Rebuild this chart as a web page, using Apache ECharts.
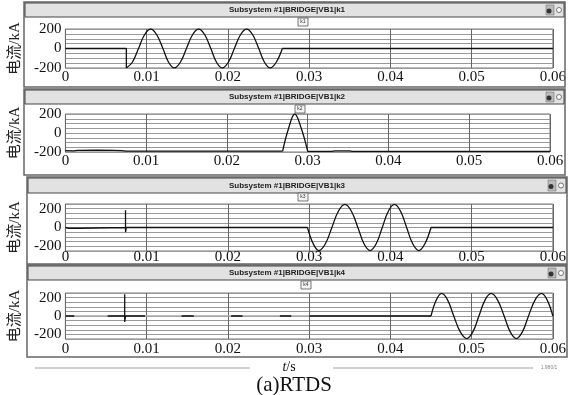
<!DOCTYPE html>
<html>
<head>
<meta charset="utf-8">
<script src="https://cdn.jsdelivr.net/npm/echarts@6/dist/echarts.min.js"></script>
<style>
  html, body { margin: 0; padding: 0; background: #fff; }
  #main { width: 569px; height: 395px; }
</style>
</head>
<body>
<div id="main"></div>
<script>
// x ticks (s)
const xTicks = [0, 0.01, 0.02, 0.03, 0.04, 0.05, 0.06];
const yLabels = [200, 0, -200];
const panelTitles = ['Subsystem #1|BRIDGE|VB1|k1', 'Subsystem #1|BRIDGE|VB1|k2',
  'Subsystem #1|BRIDGE|VB1|k3', 'Subsystem #1|BRIDGE|VB1|k4'];
const panelTags = ['k1', 'k2', 'k3', 'k4'];

// k1 current (kA) vs t (s)
const k1Flat1 = [[0, 0], [0.0075, 0], [0.0075, -200]];
const k1Wave = [[0.0075, -200], [0.00824, -141], [0.0090, 0], [0.00974, 141], [0.0105, 200],
  [0.01124, 141], [0.0120, 0], [0.0127, -141], [0.0134, -200], [0.01415, -141], [0.0149, 0],
  [0.01565, 141], [0.0164, 200], [0.01715, 141], [0.0179, 0], [0.0186, -141], [0.0193, -200],
  [0.02005, -141], [0.0208, 0], [0.02155, 141], [0.0223, 200], [0.02305, 141], [0.0238, 0],
  [0.0245, -141], [0.0252, -200], [0.02595, -141], [0.0267, 0]];
const k1Flat2 = [[0.0267, 0], [0.06, 0]];

// k2
const k2Base1 = [[0, -186], [0.001, -188], [0.0015, -183], [0.004, -180], [0.006, -182],
  [0.007, -186], [0.0075, -190], [0.0269, -190]];
const k2Pulse = [[0.0269, -190], [0.0276, 40], [0.0284, 200], [0.0292, 50], [0.0300, -193]];
const k2Base2 = [[0.0300, -193], [0.033, -193], [0.0333, -188], [0.0352, -188],
  [0.0355, -193], [0.06, -193]];

// k3
const k3Flat1 = [[0, 0], [0.0004, -8], [0.0018, -8], [0.002, 0], [0.0074, 0], [0.0074, 183],
  [0.0074, -50], [0.0075, 0], [0.0298, 0]];
const k3Wave = [[0.0298, 0], [0.0305, -173], [0.0312, -245], [0.0320, -173], [0.0328, 0],
  [0.0336, 173], [0.0344, 245], [0.0352, 173], [0.0360, 0], [0.03675, -173], [0.0375, -245],
  [0.03825, -173], [0.0390, 0], [0.03975, 173], [0.0405, 245], [0.04125, 173], [0.0420, 0],
  [0.04275, -173], [0.0435, -245], [0.04425, -173], [0.0450, 0]];
const k3Flat2 = [[0.0450, 0], [0.06, 0]];

// k4 (faint baseline with darker pieces, spike, then wave)
const k4Base = [[0, 0], [0.0450, 0]];
const k4DarkPieces = [
  [[0, 0], [0.0011, 0]],
  [[0.0052, 0], [0.0073, 0], [0.0073, 236], [0.0073, -64], [0.0074, 0], [0.0098, 0]],
  [[0.0143, 0], [0.0158, 0]],
  [[0.0204, 0], [0.0218, 0]],
  [[0.0264, 0], [0.0278, 0]],
  [[0.0300, 0], [0.0450, 0]]
];
const k4Wave = [[0.0450, 0], [0.04565, 173], [0.0463, 245], [0.04705, 173], [0.0478, 0],
  [0.0486, -173], [0.0494, -245], [0.05015, -173], [0.0509, 0], [0.05165, 173], [0.0524, 245],
  [0.0532, 173], [0.0540, 0], [0.05475, -173], [0.0555, -245], [0.05625, -173], [0.0570, 0],
  [0.0578, 173], [0.0586, 245], [0.0593, 173], [0.06, 0]];

const yRanges = [[-200, 200], [-200, 200], [-250, 250], [-250, 250]];

// layout of the four windows
const grids = [
  { left: 55, right: 16, top: 29, height: 39, xMargin: 2 },
  { left: 55, right: 19, top: 114, height: 38, xMargin: 2 },
  { left: 58, right: 15, top: 204, height: 47, xMargin: -1 },
  { left: 59, right: 13, top: 293, height: 46, xMargin: 3 }
];
const frames = [
  { x: 24, y: 2, w: 541, h: 85, bar: 14, tagX: 303, tagY: 22 },
  { x: 24, y: 89, w: 541, h: 86, bar: 14, tagX: 300, tagY: 109 },
  { x: 27, y: 177, w: 540, h: 87, bar: 15, tagX: 303, tagY: 197 },
  { x: 27, y: 265, w: 540, h: 92, bar: 14, tagX: 306, tagY: 285 }
];

const serif = '"Liberation Serif", "Times New Roman", serif';

let myChart = echarts.init(document.getElementById('main'), null, { renderer: 'canvas' });

let xAxes = [], yAxes = [], gridOpts = [];
grids.forEach(function (g, i) {
  gridOpts.push({
    left: g.left, right: g.right, top: g.top, height: g.height,
    show: true, borderColor: '#777', borderWidth: 1
  });
  xAxes.push({
    type: 'value', gridIndex: i, min: xTicks[0], max: xTicks[xTicks.length - 1], interval: 0.01,
    axisLine: { show: false }, axisTick: { show: false },
    splitLine: { show: true, lineStyle: { color: '#666', width: 1 } },
    axisLabel: {
      margin: g.xMargin, fontFamily: serif, fontSize: 15, color: '#111',
      formatter: function (v) { return v === 0 ? '0' : v.toFixed(2); }
    }
  });
  yAxes.push({
    type: 'value', gridIndex: i, min: yRanges[i][0], max: yRanges[i][1], interval: 50,
    axisLine: { show: false }, axisTick: { show: false },
    splitLine: { show: true, lineStyle: { color: '#999', width: 1 } },
    name: '电流/kA', nameLocation: 'middle', nameRotate: 90, nameGap: 37,
    nameTextStyle: { fontFamily: '"Liberation Serif", "Noto Sans CJK SC"', fontSize: 15, color: '#222' },
    axisLabel: {
      margin: 4, fontFamily: serif, fontSize: 15, color: '#111',
      formatter: function (v) { return yLabels.indexOf(v) >= 0 ? String(v) : ''; }
    }
  });
});

function line(data, idx, smooth, color) {
  return {
    type: 'line', xAxisIndex: idx, yAxisIndex: idx, data: data, showSymbol: false,
    smooth: smooth ? 0.4 : false, animation: false,
    lineStyle: { color: color || '#111', width: 1.3 }
  };
}

let series = [
  line(k1Flat1, 0, false), line(k1Wave, 0, true), line(k1Flat2, 0, false),
  line(k2Base1, 1, false), line(k2Pulse, 1, true), line(k2Base2, 1, false),
  line(k3Flat1, 2, false), line(k3Wave, 2, true), line(k3Flat2, 2, false),
  line(k4Base, 3, false, '#aaa'), line(k4Wave, 3, true)
];
k4DarkPieces.forEach(function (p) { series.push(line(p, 3, false)); });

// window chrome
let graphics = [];
frames.forEach(function (f, i) {
  graphics.push({
    type: 'rect', shape: { x: f.x, y: f.y, width: f.w, height: f.h },
    style: { fill: 'none', stroke: '#666', lineWidth: 1.5 }, z: 1
  });
  graphics.push({
    type: 'rect', shape: { x: f.x + 1, y: f.y + 1, width: f.w - 2, height: f.bar },
    style: { fill: '#e2e2e2', stroke: '#444', lineWidth: 1 }, z: 2
  });
  graphics.push({
    type: 'text', x: 287, y: f.y + 1 + f.bar / 2,
    style: {
      text: panelTitles[i], fill: '#222', font: 'bold 8px "Liberation Sans Narrow", "Liberation Sans", Arial',
      align: 'center', verticalAlign: 'middle'
    }, z: 3
  });
  // icons at right of bar
  graphics.push({
    type: 'rect', shape: { x: f.x + f.w - 19, y: f.y + 3, width: 8, height: f.bar - 4 },
    style: { fill: '#bbb', stroke: '#666', lineWidth: 0.5 }, z: 3
  });
  graphics.push({
    type: 'circle', shape: { cx: f.x + f.w - 16, cy: f.y + f.bar / 2 + 2, r: 2.5 },
    style: { fill: '#333' }, z: 4
  });
  graphics.push({
    type: 'circle', shape: { cx: f.x + f.w - 6, cy: f.y + 1 + f.bar / 2, r: 2.5 },
    style: { fill: '#fff', stroke: '#555', lineWidth: 0.8 }, z: 3
  });
  // small tag box
  graphics.push({
    type: 'rect', shape: { x: f.tagX - 5, y: f.tagY - 4, width: 10, height: 8 },
    style: { fill: '#f4f4f4', stroke: '#555', lineWidth: 0.8 }, z: 3
  });
  graphics.push({
    type: 'text', x: f.tagX, y: f.tagY,
    style: { text: panelTags[i], fill: '#333', font: '5px Arial', align: 'center', verticalAlign: 'middle' }, z: 4
  });
});

// bottom scrollbar remnant and captions
graphics.push({ type: 'rect', shape: { x: 35, y: 367, width: 215, height: 2 }, style: { fill: '#d0d0d0' } });
graphics.push({ type: 'rect', shape: { x: 333, y: 367, width: 200, height: 2 }, style: { fill: '#d0d0d0' } });
graphics.push({
  type: 'text', x: 549, y: 368,
  style: { text: '1.980/1', fill: '#888', font: '5px Arial', align: 'center', verticalAlign: 'middle' }
});
graphics.push({
  type: 'text', x: 289, y: 367,
  style: {
    text: '{i|t}/s', fill: '#111', font: '14px ' + serif, align: 'center', verticalAlign: 'middle',
    rich: { i: { fontStyle: 'italic', fontFamily: serif, fontSize: 14, fill: '#111' } }
  }
});
graphics.push({
  type: 'text', x: 294, y: 385,
  style: { text: '(a)RTDS', fill: '#111', font: '21px ' + serif, align: 'center', verticalAlign: 'middle' }
});

let chartOption = {
  backgroundColor: '#fff',
  animation: false,
  grid: gridOpts,
  xAxis: xAxes,
  yAxis: yAxes,
  series: series,
  graphic: graphics
};

chartOption && myChart.setOption(chartOption);
</script>
</body>
</html>
